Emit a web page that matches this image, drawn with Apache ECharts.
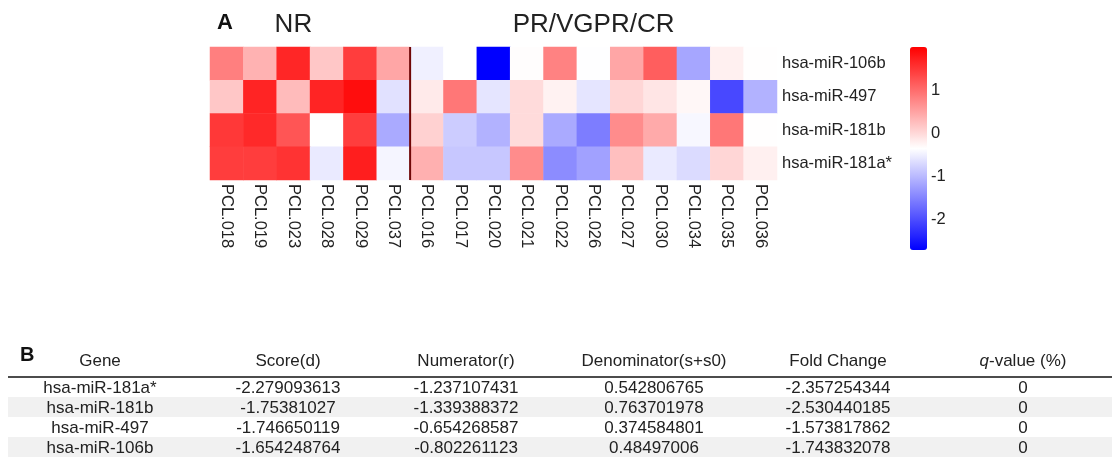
<!DOCTYPE html>
<html>
<head>
<meta charset="utf-8">
<title>miRNA heatmap</title>
<script src="https://cdn.jsdelivr.net/npm/echarts@6/dist/echarts.min.js"></script>
<style>
  html, body { margin: 0; padding: 0; background: #fff; }
  #chart { width: 1112px; height: 459px; }
</style>
</head>
<body>
<div id="chart"></div>
<script>
// Samples, grouped by response
const samples = ['PCL.018', 'PCL.019', 'PCL.023', 'PCL.028', 'PCL.029', 'PCL.037',
  'PCL.016', 'PCL.017', 'PCL.020', 'PCL.021', 'PCL.022', 'PCL.026', 'PCL.027',
  'PCL.030', 'PCL.034', 'PCL.035', 'PCL.036'];
const groupNames = ['NR', 'PR/VGPR/CR'];
const groupSizes = [6, 11];

const mirnas = ['hsa-miR-106b', 'hsa-miR-497', 'hsa-miR-181b', 'hsa-miR-181a*'];

// Standardised expression per miRNA, one value per sample (order as in samples)
const expr106b = [0.83, 0.36, 1.65, 0.17, 1.44, 0.47, -0.49, -0.35, -2.70, -0.33, 0.80, -0.36, 0.47, 1.13, -1.17, -0.21, -0.34];
const expr497 = [0.17, 1.67, 0.28, 1.67, 1.88, -0.63, -0.16, 0.90, -0.59, -0.02, -0.23, -0.59, 0.03, -0.11, -0.28, -2.04, -1.06];
const expr181b = [1.48, 1.62, 1.22, -0.35, 1.44, -1.13, 0.07, -0.82, -1.06, -0.02, -1.13, -1.55, 0.71, 0.43, -0.42, 0.90, -0.34];
const expr181a = [1.44, 1.44, 1.53, -0.54, 1.72, -0.44, 0.38, -0.87, -0.87, 0.71, -1.41, -1.22, 0.24, -0.54, -0.68, 0.03, -0.21];
const exprRows = [expr106b, expr497, expr181b, expr181a];

// Colour scale range and tick labels
const scaleMin = -2.7;
const scaleMax = 2.0;
const scaleTicks = [-2, -1, 0, 1];

// SAM results table
const tableHeaders = ['Gene', 'Score(d)', 'Numerator(r)', 'Denominator(s+s0)', 'Fold Change', '{i|q}-value (%)'];
const tableGenes = ['hsa-miR-181a*', 'hsa-miR-181b', 'hsa-miR-497', 'hsa-miR-106b'];
const scoreD = ['-2.279093613', '-1.75381027', '-1.746650119', '-1.654248764'];
const numeratorR = ['-1.237107431', '-1.339388372', '-0.654268587', '-0.802261123'];
const denominator = ['0.542806765', '0.763701978', '0.374584801', '0.48497006'];
const foldChange = ['-2.357254344', '-2.530440185', '-1.573817862', '-1.743832078'];
const qValue = ['0', '0', '0', '0'];

// Table column anchor positions (layout)
const colCenters = [100, 288, 466, 654, 838, 1023];

const heatData = [];
exprRows.forEach((row, r) => row.forEach((v, c) => heatData.push([c, r, v])));

// Group names shown above the middle column of each group
const topLabels = {};
let start = 0;
groupSizes.forEach((n, g) => { topLabels[start + Math.floor((n - 1) / 2)] = groupNames[g]; start += n; });

const tableCols = [tableGenes, scoreD, numeratorR, denominator, foldChange, qValue];
const textColor = '#222';
const font = '"Liberation Sans", Arial, Helvetica, sans-serif';
const tableFont = 17;

const chart = echarts.init(document.getElementById('chart'), null, { renderer: 'canvas' });

chart.setOption({
  animation: false,
  backgroundColor: '#fff',
  textStyle: { fontFamily: font, color: textColor },
  title: [
    { text: 'A', left: 217, top: 12, padding: 0, textStyle: { fontSize: 22, fontWeight: 'bold', color: '#111', fontFamily: font } },
    { text: 'B', left: 20, top: 345, padding: 0, textStyle: { fontSize: 20, fontWeight: 'bold', color: '#111', fontFamily: font } }
  ],
  grid: [
    { left: 210, top: 47, width: 567, height: 133 },
    { left: 910, top: 47, width: 17, height: 203 },
    { left: 0, right: 0, top: 377, height: 80 }
  ],
  xAxis: [
    {
      gridIndex: 0, type: 'category', data: samples, position: 'bottom',
      axisLine: { show: false }, axisTick: { show: false }, splitLine: { show: false },
      axisLabel: { interval: 0, rotate: -90, fontSize: 16.5, margin: 4, color: textColor }
    },
    {
      gridIndex: 0, type: 'category', data: samples, position: 'top',
      axisLine: { show: false }, axisTick: { show: false },
      axisLabel: { interval: 0, fontSize: 26, margin: 9, color: textColor, formatter: (v, i) => topLabels[i] || '' }
    },
    { gridIndex: 1, type: 'category', data: [''], show: false },
    { gridIndex: 2, type: 'value', min: 0, max: 1112, show: false }
  ],
  yAxis: [
    {
      gridIndex: 0, type: 'category', data: mirnas, inverse: true, position: 'right',
      axisLine: { show: false }, axisTick: { show: false },
      axisLabel: { fontSize: 16.5, margin: 5, color: textColor }
    },
    {
      gridIndex: 1, type: 'value', min: scaleMin, max: scaleMax, position: 'right',
      axisLine: { show: false }, axisTick: { show: false }, splitLine: { show: false },
      axisLabel: { customValues: scaleTicks, fontSize: 16.5, margin: 4, color: textColor }
    },
    { gridIndex: 2, type: 'category', data: tableGenes, inverse: true, show: false }
  ],
  visualMap: {
    type: 'continuous', seriesIndex: 0, min: scaleMin, max: scaleMax,
    calculable: false, orient: 'vertical', left: 910, top: 47, padding: 0,
    itemWidth: 17, itemHeight: 203, text: null, showLabel: false,
    inRange: { color: ['#0000ff', '#ffffff', '#ff0000'] }
  },
  series: [
    {
      type: 'heatmap', xAxisIndex: 0, yAxisIndex: 0, data: heatData,
      itemStyle: { borderWidth: 0 }, emphasis: { disabled: true }
    },
    {
      // divider between the two response groups
      type: 'custom', xAxisIndex: 0, yAxisIndex: 0, silent: true, z: 5,
      data: [[groupSizes[0], 0]],
      renderItem: (params, api) => {
        const x = api.coord([api.value(0), 0])[0] - api.size([1, 0])[0] / 2;
        const cs = params.coordSys;
        return {
          type: 'line',
          shape: { x1: x, y1: cs.y, x2: x, y2: cs.y + cs.height },
          style: { stroke: '#700606', lineWidth: 2 }
        };
      }
    },
    {
      type: 'custom', xAxisIndex: 3, yAxisIndex: 2, silent: true,
      data: tableGenes.map((g, i) => [0, i]),
      renderItem: (params, api) => {
        const row = api.value(1);
        const cy = api.coord([0, row])[1];
        const band = api.size([0, 1])[1];
        const x0 = api.coord([8, row])[0];
        const x1 = api.coord([1112, row])[0];
        const children = [];
        if (row % 2 === 1) {
          children.push({ type: 'rect', shape: { x: x0, y: cy - band / 2, width: x1 - x0, height: band }, style: { fill: '#f1f1f1' } });
        }
        tableCols.forEach((col, c) => {
          children.push({
            type: 'text',
            style: { x: api.coord([colCenters[c], row])[0], y: cy + 1, text: col[row], align: 'center', verticalAlign: 'middle', fontSize: tableFont, fontFamily: font, fill: textColor }
          });
        });
        if (row === 0) {
          const top = cy - band / 2;
          tableHeaders.forEach((h, c) => {
            children.push({
              type: 'text',
              style: {
                x: api.coord([colCenters[c], row])[0], y: top - 16, text: h, align: 'center', verticalAlign: 'middle',
                fontSize: tableFont, fontFamily: font, fill: textColor,
                rich: { i: { fontStyle: 'italic', fontSize: tableFont, fontFamily: font, fill: textColor } }
              }
            });
          });
          children.push({ type: 'line', shape: { x1: x0, y1: top, x2: x1, y2: top }, style: { stroke: '#111', lineWidth: 1.6 } });
        }
        return { type: 'group', children };
      }
    }
  ]
});
</script>
</body>
</html>
